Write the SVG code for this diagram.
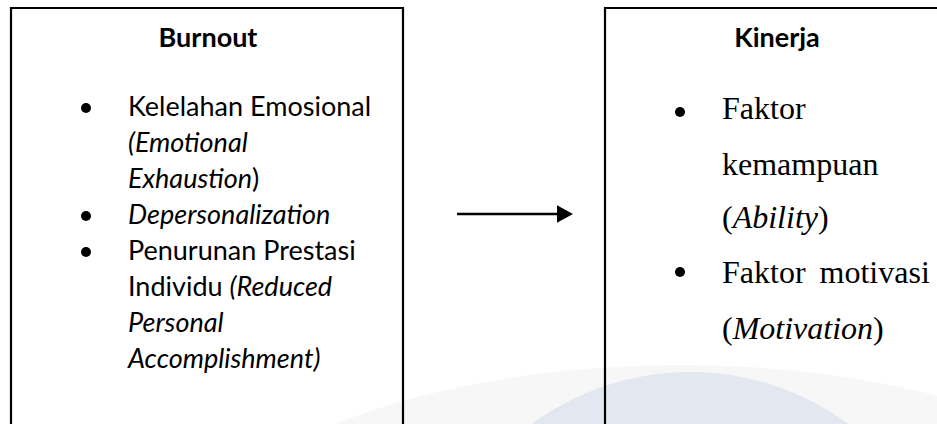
<svg xmlns="http://www.w3.org/2000/svg" width="937" height="424" viewBox="0 0 937 424">
<defs>
<style>
.box{fill:none;stroke:#000;stroke-width:2.2}
.hd{font-family:Lato,"Open Sans","Liberation Sans",sans-serif;font-weight:bold;font-size:27px;fill:#000}
.cal{font-family:Lato,"Open Sans","Liberation Sans",sans-serif;font-size:27px;fill:#000}
.tnr{font-family:"Liberation Serif","Times New Roman",serif;font-size:32px;fill:#000}
.it{font-style:italic}
.conn{stroke:#000;stroke-width:2.5;fill:none}
</style>
<marker id="ah" markerWidth="8" markerHeight="7" refX="0" refY="3.5" orient="auto" markerUnits="strokeWidth">
<polygon points="0,0 6.4,3.5 0,7" fill="#000"/>
</marker>
</defs>
<rect width="937" height="424" fill="#fff"/>
<g id="watermark">
<ellipse cx="680" cy="600" rx="520" ry="235" fill="#f7f7f7"/>
<circle cx="690" cy="640" r="268" fill="#e3e8f0"/>
</g>
<g id="burnout">
<path class="box" d="M11,430 V8 H403 V430"/>
<text class="hd" x="208" y="47" text-anchor="middle">Burnout</text>
<circle cx="86" cy="108" r="5"/>
<circle cx="86" cy="216" r="5"/>
<circle cx="86" cy="252" r="5"/>
<text class="cal" x="128" y="116">Kelelahan Emosional</text>
<text class="cal it" x="128" y="152">(Emotional</text>
<text class="cal" x="128" y="188"><tspan class="it">Exhaustion</tspan>)</text>
<text class="cal it" x="128" y="224">Depersonalization</text>
<text class="cal" x="128" y="260">Penurunan Prestasi</text>
<text class="cal" x="128" y="296">Individu <tspan class="it">(Reduced</tspan></text>
<text class="cal it" x="128" y="332">Personal</text>
<text class="cal it" x="128" y="368">Accomplishment)</text>
</g>
<g id="kinerja">
<path class="box" d="M605,430 V8 H945"/>
<text class="hd" x="777" y="47" text-anchor="middle">Kinerja</text>
<circle cx="680" cy="112" r="5"/>
<circle cx="680" cy="272" r="5"/>
<text class="tnr" x="722" y="119">Faktor</text>
<text class="tnr" x="722" y="175">kemampuan</text>
<text class="tnr" x="722" y="228">(<tspan class="it">Ability</tspan>)</text>
<text class="tnr" x="722" y="283" word-spacing="6">Faktor motivasi</text>
<text class="tnr" x="722" y="339">(<tspan class="it">Motivation</tspan>)</text>
</g>
<g id="connectors">
<line class="conn" x1="457" y1="214" x2="557" y2="214" marker-end="url(#ah)"/>
</g>
</svg>
